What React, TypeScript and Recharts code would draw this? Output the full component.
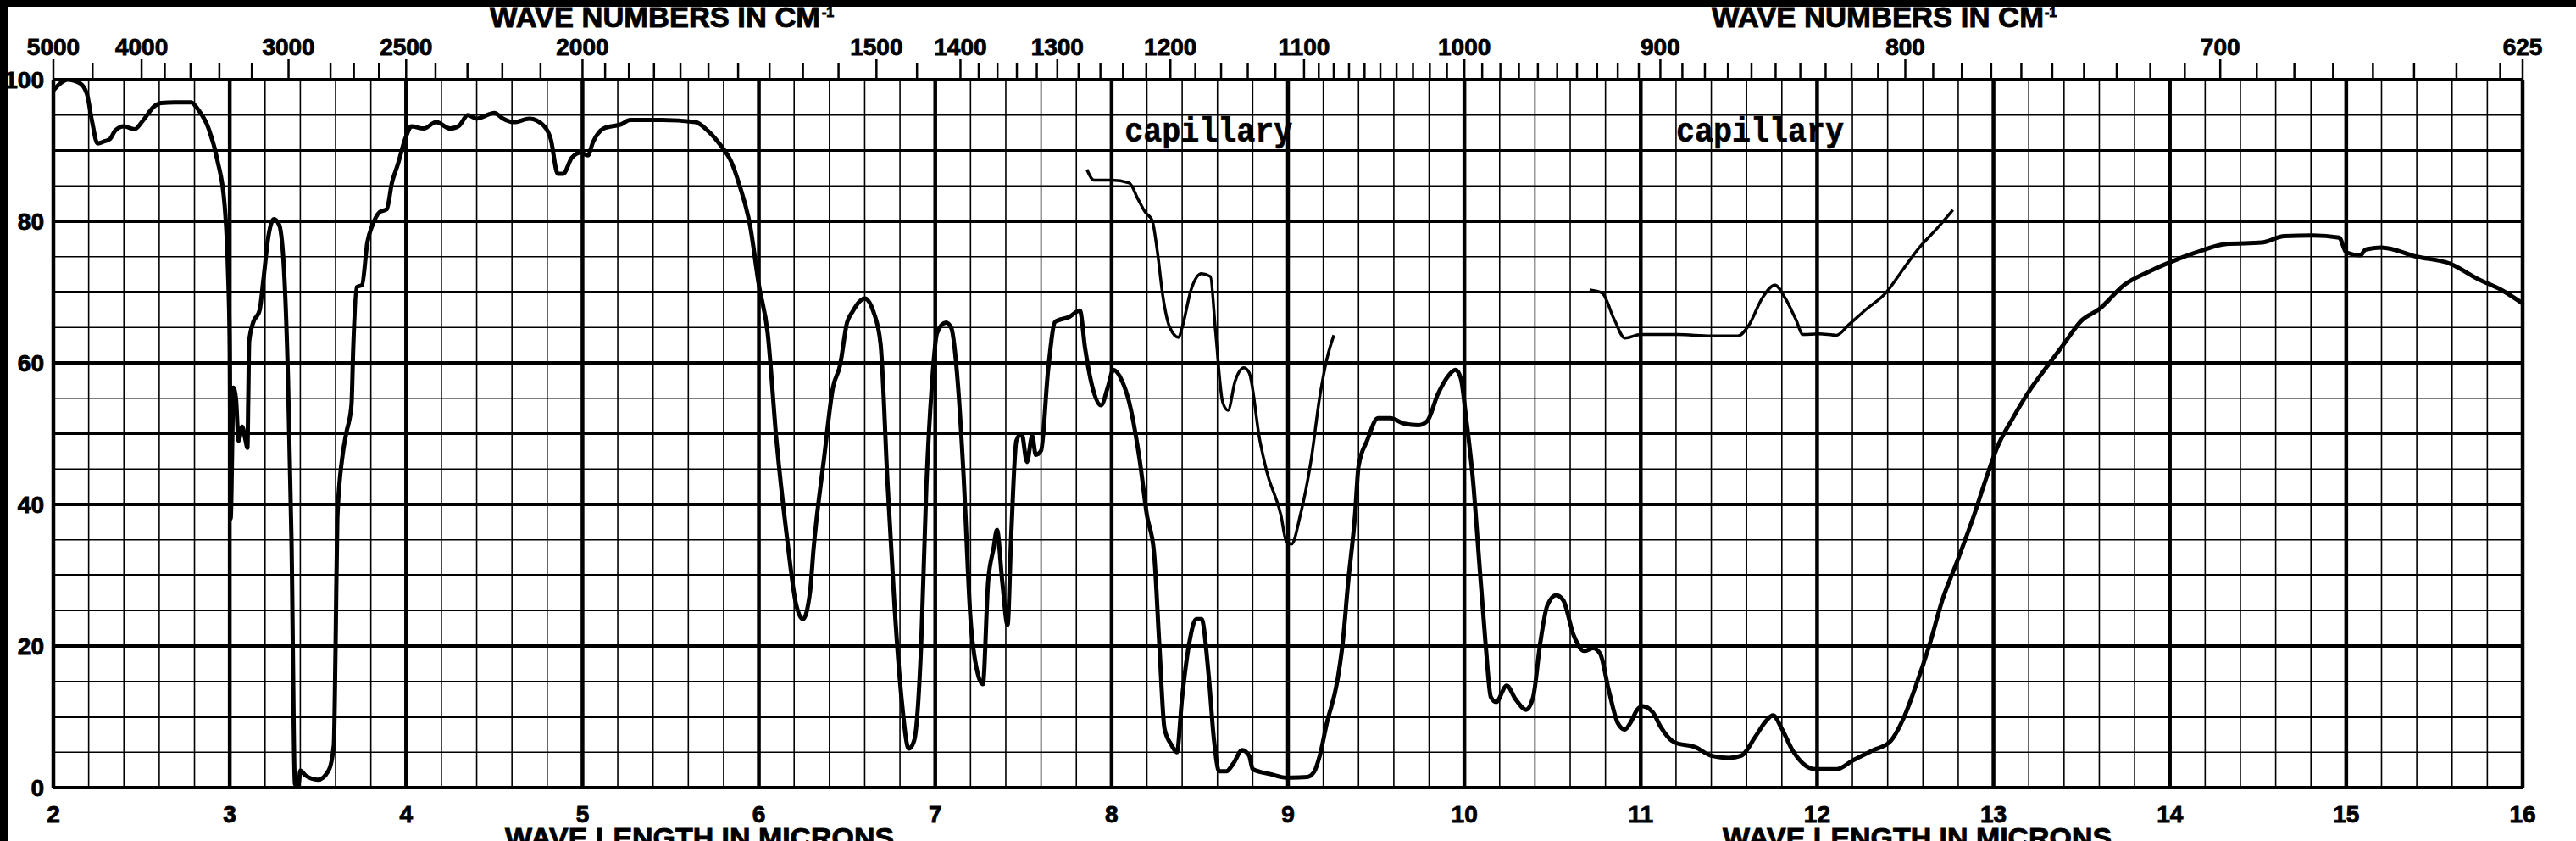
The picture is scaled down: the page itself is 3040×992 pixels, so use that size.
import { LineChart, Line, XAxis, YAxis, ReferenceLine, ReferenceArea } from "recharts";

// Main spectrum (wavelength in microns, % transmittance)
const mainWavelength = [
  2.0, 2.04, 2.08, 2.15, 2.19, 2.22, 2.25, 2.29, 2.32, 2.35, 2.4, 2.46, 2.51, 2.57, 2.61, 2.69, 2.78, 2.82, 2.88, 2.93,
  2.97, 2.99, 3.0, 3.005, 3.015, 3.02, 3.035, 3.05, 3.07, 3.09, 3.1, 3.105, 3.11, 3.13, 3.17, 3.19, 3.22, 3.25, 3.28, 3.31,
  3.33, 3.35, 3.37, 3.39, 3.4, 3.43, 3.5, 3.56, 3.59, 3.6, 3.61, 3.64, 3.66, 3.69, 3.7, 3.72, 3.75, 3.78, 3.81, 3.85,
  3.89, 3.92, 3.95, 4.0, 4.03, 4.1, 4.17, 4.25, 4.3, 4.35, 4.4, 4.5, 4.55, 4.61, 4.7, 4.78, 4.82, 4.86, 4.89, 4.94,
  4.99, 5.03, 5.06, 5.12, 5.22, 5.27, 5.45, 5.64, 5.71, 5.79, 5.84, 5.89, 5.95, 6.0, 6.05, 6.1, 6.16, 6.21, 6.25, 6.29,
  6.31, 6.37, 6.42, 6.46, 6.5, 6.53, 6.6, 6.65, 6.69, 6.73, 6.77, 6.81, 6.85, 6.88, 6.92, 6.95, 6.98, 7.01, 7.06, 7.09,
  7.13, 7.16, 7.2, 7.24, 7.27, 7.3, 7.33, 7.35, 7.38, 7.41, 7.43, 7.46, 7.49, 7.52, 7.55, 7.57, 7.6, 7.64, 7.68, 7.76,
  7.82, 7.85, 7.89, 7.94, 7.98, 8.01, 8.06, 8.1, 8.16, 8.2, 8.24, 8.27, 8.3, 8.34, 8.37, 8.4, 8.44, 8.48, 8.51, 8.55,
  8.58, 8.61, 8.65, 8.69, 8.74, 8.78, 8.8, 8.9, 8.99, 9.11, 9.15, 9.18, 9.22, 9.28, 9.31, 9.34, 9.38, 9.4, 9.45, 9.51,
  9.58, 9.66, 9.74, 9.79, 9.85, 9.91, 9.95, 9.98, 10.01, 10.05, 10.08, 10.12, 10.15, 10.18, 10.24, 10.29, 10.35, 10.39, 10.43, 10.47,
  10.52, 10.56, 10.62, 10.68, 10.73, 10.77, 10.82, 10.87, 10.91, 10.94, 10.98, 11.01, 11.07, 11.11, 11.19, 11.31, 11.4, 11.5, 11.57, 11.65,
  11.71, 11.75, 11.8, 11.86, 11.92, 11.99, 12.11, 12.2, 12.32, 12.41, 12.49, 12.56, 12.64, 12.71, 12.79, 12.89, 12.96, 13.02, 13.11, 13.21,
  13.31, 13.4, 13.5, 13.6, 13.74, 13.89, 14.0, 14.15, 14.32, 14.52, 14.65, 14.81, 14.96, 15.0, 15.08, 15.11, 15.2, 15.4, 15.59, 15.75,
  15.88, 16.0,
];
const mainTransmittance = [
  98.5, 99.5, 100, 99.5, 98, 94, 91, 91.3, 91.6, 92.8, 93.4, 93, 94.3, 96.2, 96.7, 96.8, 96.8, 95.8, 93.1, 88.6,
  82.5, 73, 62, 38, 50, 56.5, 55, 49, 51, 49, 48, 55, 63, 65.5, 67.5, 71.6, 78, 80.3, 79.5, 72,
  58, 35, 0.5, 0.5, 2.4, 1.7, 1.1, 2.4, 6, 20, 38, 47, 50, 54, 62, 70.7, 71, 77, 79.5, 81.3,
  81.7, 85.5, 87.8, 92, 93.4, 93.1, 94, 93.1, 93.5, 95, 94.5, 95.3, 94.5, 94, 94.5, 93.5, 91.6, 86.7, 86.7, 89,
  89.7, 89.3, 91.2, 93.1, 93.7, 94.3, 94.3, 94, 92.8, 90.5, 88.6, 85.1, 79.4, 71, 64.2, 49, 35.2, 26, 23.8, 27.6,
  33.7, 46.6, 56.5, 59.6, 65.7, 67.2, 69.1, 67.2, 62.7, 42.8, 25.3, 12.3, 5.5, 6.6, 20, 42.8, 56.5, 64.2, 65.7, 65,
  56.5, 44.4, 23.8, 16.2, 14.6, 29.1, 33.7, 36.4, 29.1, 23, 35.2, 49, 50, 46, 49.7, 47, 47.6, 59, 65.8, 66.5,
  67.4, 62, 56.7, 54, 56.7, 59, 57.4, 54.4, 46.1, 38.5, 33.3, 20.4, 8.3, 6, 5, 12.8, 20.4, 23.8, 23.8, 15.9,
  6.8, 2.3, 2.3, 3.4, 5.3, 4.5, 2.6, 1.9, 1.4, 1.5, 2.3, 4.5, 9.1, 15.1, 20.4, 28.7, 38.5, 45.4, 49.1, 52.2,
  52.2, 51.4, 51.2, 51.8, 55.6, 58.2, 59, 57.8, 52.2, 43.1, 33.3, 20.4, 12.8, 12.1, 14.4, 12.5, 11, 12.8, 20.4, 25.7,
  27.2, 26.5, 21.5, 19.3, 19.7, 18.9, 13.6, 9.1, 8.2, 9.1, 11, 11.5, 10.6, 8.7, 6.4, 5.7, 4.5, 4.2, 4.5, 7.2,
  9.4, 10.2, 8.3, 5.3, 3.4, 2.6, 2.6, 3.8, 5.3, 6.4, 9.8, 14.4, 20.4, 26.5, 31.7, 38.5, 43.8, 48, 52.2, 56.3,
  59.7, 62.7, 66, 67.6, 71, 73, 74.2, 75.6, 76.8, 77, 77.9, 78, 77.7, 75.6, 75.2, 76, 76.3, 75, 74, 71.8,
  70.3, 68.4,
];

// First "capillary" overlay trace
const capillaryAWavelength = [
  7.86, 7.9, 8.0, 8.1, 8.15, 8.19, 8.23, 8.26, 8.29, 8.33, 8.38, 8.4, 8.45, 8.51, 8.56, 8.59, 8.63, 8.66, 8.7, 8.75,
  8.78, 8.84, 8.88, 8.96, 8.99, 9.02, 9.07, 9.13, 9.18, 9.22, 9.26,
];
const capillaryATransmittance = [
  87.3, 85.8, 85.8, 85.4, 83.1, 81.3, 80.1, 75.6, 69.5, 65, 63.6, 65, 70.3, 72.6, 72.2, 64.2, 54.4, 53.3, 57.4, 59.3,
  58.6, 49.1, 44.6, 38.5, 34.8, 34.4, 38.5, 46.1, 55.2, 60.5, 63.9,
];

// Second "capillary" overlay trace
const capillaryBWavelength = [
  10.71, 10.78, 10.85, 10.91, 11.0, 11.21, 11.4, 11.55, 11.61, 11.69, 11.76, 11.82, 11.88, 11.92, 12.01, 12.11, 12.18, 12.28, 12.39, 12.49,
  12.58, 12.68, 12.77,
];
const capillaryBTransmittance = [
  70.3, 69.9, 66.1, 63.5, 64, 64, 63.8, 63.8, 65.2, 69.2, 71, 69.1, 66.1, 64, 64.1, 63.9, 65.4, 67.6, 69.9, 73.3,
  76.3, 79, 81.6,
];

const micronTicks = [2, 3, 4, 5, 6, 7, 8, 9, 10, 11, 12, 13, 14, 15, 16];
const percentTicks = [0, 20, 40, 60, 80, 100];
const waveNumberLabels = [5000, 4000, 3000, 2500, 2000, 1500, 1400, 1300, 1200, 1100, 1000, 900, 800, 700, 625];
const waveNumberMarks = [
  5000, 4500, 4000, 3800, 3600, 3400, 3200, 3000, 2800, 2700, 2600, 2500, 2400, 2300, 2200, 2100, 2000,
  1950, 1900, 1850, 1800, 1750, 1700, 1650, 1600, 1550, 1500, 1450, 1400, 1380, 1360, 1340, 1320, 1300,
  1280, 1260, 1240, 1220, 1200, 1180, 1160, 1140, 1120, 1100, 1090, 1080, 1070, 1060, 1050, 1040, 1030,
  1020, 1010, 1000, 990, 980, 970, 960, 950, 940, 930, 920, 910, 900, 890, 880, 870, 860, 850, 840, 830,
  820, 810, 800, 790, 780, 770, 760, 750, 740, 730, 720, 710, 700, 690, 680, 670, 660, 650, 640, 630, 625,
];
const capillaryBoxes = [
  { x1: 7.954, x2: 9.146, label: "capillary" },
  { x1: 11.116, x2: 12.236, label: "capillary" },
];

const toPoints = (xs: number[], ys: number[]) => xs.map((w, i) => ({ w, t: ys[i] }));
const mainData = toPoints(mainWavelength, mainTransmittance);
const capillaryAData = toPoints(capillaryAWavelength, capillaryATransmittance);
const capillaryBData = toPoints(capillaryBWavelength, capillaryBTransmittance);

const verticalGrid = Array.from({ length: 71 }, (_, i) => Math.round((2 + i * 0.2) * 10) / 10);
const horizontalGrid = Array.from({ length: 21 }, (_, i) => i * 5);

const labelFont = "'Liberation Sans', Arial, sans-serif";
const heavy = { fontFamily: labelFont, fontWeight: "bold" as const, fill: "#000", stroke: "#000", strokeWidth: 0.9 };

function MicronTick({ x, payload }: any) {
  return (
    <text x={x} y={970} textAnchor="middle" fontSize={28} {...heavy}>
      {payload.value}
    </text>
  );
}

function PercentTick({ y, payload }: any) {
  return (
    <text x={52} y={y + 10} textAnchor="end" fontSize={28} {...heavy}>
      {payload.value}
    </text>
  );
}

function WaveNumberTick({ x, payload }: any) {
  const wn = Math.round(10000 / payload.value);
  const labeled = waveNumberLabels.includes(wn);
  return (
    <g>
      <line x1={x} x2={x} y1={labeled ? 70 : 74} y2={94} stroke="#000" strokeWidth={2.5} />
      {labeled && (
        <text x={x} y={65} textAnchor="middle" fontSize={28} {...heavy}>
          {wn}
        </text>
      )}
    </g>
  );
}

function CapillaryLabel({ viewBox, value }: any) {
  const cx = viewBox.x + viewBox.width / 2;
  const cy = viewBox.y + viewBox.height / 2;
  return (
    <text
      x={cx}
      y={cy + 10}
      textAnchor="middle"
      fontFamily="'Liberation Mono', 'Courier New', monospace"
      fontWeight="bold"
      fontSize={40}
      textLength={198}
      lengthAdjust="spacingAndGlyphs"
      fill="#000"
      stroke="#000"
      strokeWidth={0.6}
    >
      {value}
    </text>
  );
}

export default function App() {
  return (
    <div style={{ position: "relative", width: 3040, height: 992, background: "#fff", overflow: "hidden" }}>
      <style>{"body{margin:0;background:#fff}"}</style>
      <LineChart width={3040} height={992} margin={{ top: 0, right: 63, bottom: 0, left: 0 }}>
        <XAxis
          dataKey="w"
          type="number"
          domain={[2, 16]}
          ticks={micronTicks}
          interval={0}
          axisLine={false}
          tickLine={false}
          height={63}
          tick={<MicronTick />}
          allowDataOverflow
        />
        <XAxis
          xAxisId="top"
          dataKey="w"
          orientation="top"
          type="number"
          domain={[2, 16]}
          ticks={waveNumberMarks.map((wn) => 10000 / wn)}
          interval={0}
          axisLine={false}
          tickLine={false}
          height={94}
          tick={<WaveNumberTick />}
          allowDataOverflow
        />
        <YAxis
          type="number"
          domain={[0, 100]}
          ticks={percentTicks}
          interval={0}
          axisLine={false}
          tickLine={false}
          width={63}
          tick={<PercentTick />}
          allowDataOverflow
        />
        {horizontalGrid.map((v) => (
          <ReferenceLine
            key={`h${v}`}
            y={v}
            stroke="#000"
            strokeWidth={v % 20 === 0 ? 3.8 : v % 10 === 0 ? 2.8 : 1.7}
          />
        ))}
        {verticalGrid.map((v) => (
          <ReferenceLine
            key={`v${v}`}
            x={v}
            stroke="#000"
            strokeWidth={Number.isInteger(v) ? 4.5 : 1.6}
          />
        ))}
        {capillaryBoxes.map((b, i) => (
          <ReferenceArea
            key={`box${i}`}
            x1={b.x1}
            x2={b.x2}
            y1={89.3}
            y2={95.7}
            fill="#fff"
            fillOpacity={1}
            stroke="none"
            label={<CapillaryLabel value={b.label} />}
          />
        ))}
        {/* invisible copy bound to the wave-number axis so its ticks get drawn */}
        <Line
          xAxisId="top"
          data={mainData}
          dataKey="t"
          stroke="none"
          strokeWidth={0}
          dot={false}
          activeDot={false}
          isAnimationActive={false}
        />
        <Line
          data={mainData}
          dataKey="t"
          type="monotoneX"
          stroke="#000"
          strokeWidth={5}
          dot={false}
          isAnimationActive={false}
        />
        <Line
          data={capillaryAData}
          dataKey="t"
          type="monotoneX"
          stroke="#000"
          strokeWidth={3.5}
          dot={false}
          isAnimationActive={false}
        />
        <Line
          data={capillaryBData}
          dataKey="t"
          type="monotoneX"
          stroke="#000"
          strokeWidth={3.5}
          dot={false}
          isAnimationActive={false}
        />
      </LineChart>
      <svg
        width={3040}
        height={992}
        style={{ position: "absolute", left: 0, top: 0, pointerEvents: "none" }}
      >
        <rect x={0} y={0} width={3040} height={8} fill="#000" />
        <rect x={0} y={0} width={9} height={992} fill="#000" />
        <g fontFamily={labelFont} fontWeight="bold" fill="#000" stroke="#000" strokeWidth={0.9}>
          <text x={578} y={32} fontSize={34} textLength={390} lengthAdjust="spacingAndGlyphs">
            WAVE NUMBERS IN CM
          </text>
          <text x={970} y={20} fontSize={16}>-1</text>
          <text x={2020} y={32} fontSize={34} textLength={392} lengthAdjust="spacingAndGlyphs">
            WAVE NUMBERS IN CM
          </text>
          <text x={2413} y={20} fontSize={16}>-1</text>
          <text x={596} y={999} fontSize={32} textLength={459} lengthAdjust="spacingAndGlyphs">
            WAVE LENGTH IN MICRONS
          </text>
          <text x={2033} y={999} fontSize={32} textLength={459} lengthAdjust="spacingAndGlyphs">
            WAVE LENGTH IN MICRONS
          </text>
        </g>
      </svg>
    </div>
  );
}
